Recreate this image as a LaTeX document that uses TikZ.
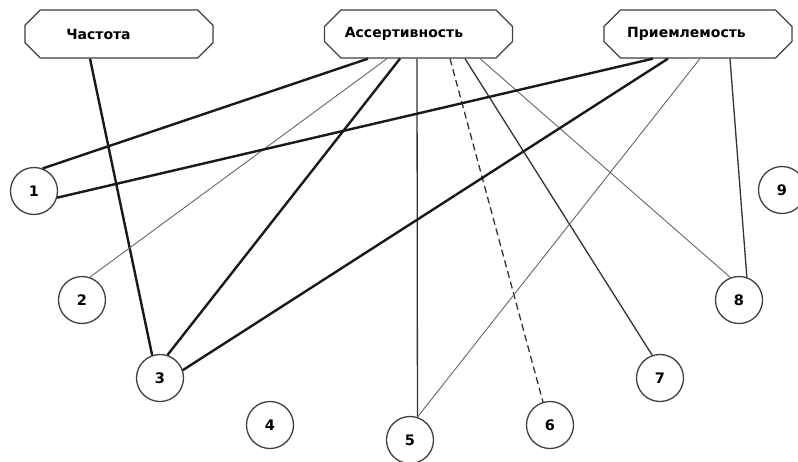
\documentclass[tikz,border=0pt]{standalone}
\usepackage{fontspec}
\setmainfont{DejaVu Sans}
\usetikzlibrary{shapes.misc}
\begin{document}
\begin{tikzpicture}[x=1pt,y=-1pt,
  factor/.style={chamfered rectangle, chamfered rectangle xsep=10pt,
    chamfered rectangle ysep=10pt, draw=black!75, line width=1.3pt,
    minimum width=188pt, minimum height=48pt, inner sep=0pt,
    font=\bfseries\fontsize{14}{16}\selectfont},
  item/.style={circle, draw=black!75, line width=1.3pt, minimum size=47pt,
    inner sep=0pt, font=\bfseries\fontsize{14.5}{16}\selectfont},
  heavy/.style={line width=2.4pt, black!90},
  mid/.style={line width=1.3pt, black!80},
  light/.style={line width=0.9pt, black!60}]
\useasboundingbox (0,0) rectangle (798,461);
\clip (0,0) rectangle (798,461);
\fill[white] (0,0) rectangle (798,461);

% factor boxes (labels sit a little left of centre)
\node[factor] (fr) at (119,34) {Частота\hspace*{41pt}};
\node[factor] (as) at (418.5,34) {Ассертивность\hspace*{29pt}};
\node[factor] (pr) at (698,34) {Приемлемость\hspace*{23pt}};

% numbered items
\node[item] (n1) at (34,191) {1};
\node[item] (n2) at (82,300) {2};
\node[item] (n3) at (160,378) {3};
\node[item] (n4) at (270,425) {4};
\node[item] (n5) at (410,440) {5};
\node[item] (n6) at (550,425) {6};
\node[item] (n7) at (660,378) {7};
\node[item] (n8) at (739,300) {8};
\node[item] (n9) at (782,190) {9};

% links from "Частота"
\draw[heavy] ([xshift=-29pt]fr.south) -- (n3.109);

% links from "Ассертивность"
\draw[heavy] ([xshift=-50.5pt]as.south) -- (n1.69);
\draw[light] ([xshift=-31.5pt]as.south) -- (n2.71);
\draw[heavy] ([xshift=-18.5pt]as.south) -- (n3.72);
\draw[mid] ([xshift=-1.5pt]as.south) -- (n5.72);
\draw[mid, dash pattern=on 7pt off 4pt] ([xshift=31.5pt]as.south) -- (n6.107);
\draw[mid] ([xshift=46.5pt]as.south) -- (n7.109);
\draw[light] ([xshift=61.5pt]as.south) -- (n8.111);

% links from "Приемлемость"
\draw[heavy] ([xshift=-45pt]pr.south) -- (n1.-16);
\draw[heavy] ([xshift=-30pt]pr.south) -- (n3.19);
\draw[light] ([xshift=2pt]pr.south) -- (n5.72);
\draw[mid] ([xshift=32pt]pr.south) -- (n8.71);
\end{tikzpicture}
\end{document}
